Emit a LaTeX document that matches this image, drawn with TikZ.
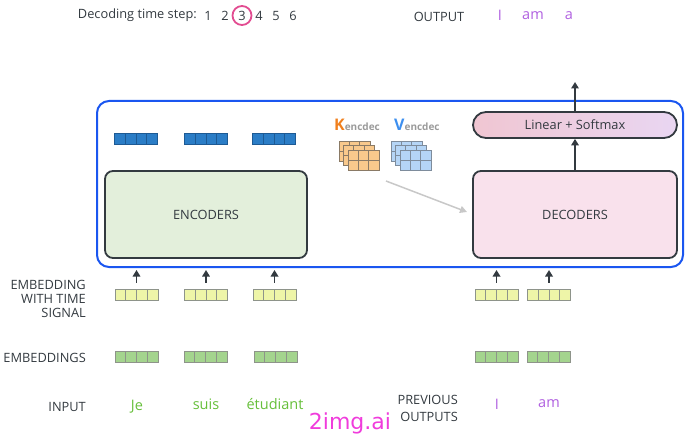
\documentclass[tikz,border=0pt]{standalone}
\usepackage{fontspec}
\setmainfont{Open Sans}
\newfontfamily\wmfont{DejaVu Sans}
\usetikzlibrary{arrows.meta,calc}
\definecolor{txt}{HTML}{333A40}
\definecolor{outerblue}{HTML}{1A56F0}
\definecolor{encfill}{HTML}{E3EFDB}
\definecolor{decfill}{HTML}{F9E1EC}
\definecolor{linL}{HTML}{F0C6D2}
\definecolor{linR}{HTML}{E9D6F2}
\definecolor{bluevec}{HTML}{2B7DC6}
\definecolor{bluevecl}{HTML}{1D5A94}
\definecolor{yelvec}{HTML}{EEF5A8}
\definecolor{greenvec}{HTML}{A4D48E}
\definecolor{vecline}{HTML}{8E948A}
\definecolor{kfill}{HTML}{F9C98C}
\definecolor{kline}{HTML}{8A7A66}
\definecolor{vfill}{HTML}{B5D5F6}
\definecolor{vline}{HTML}{7E8C9C}
\definecolor{korange}{HTML}{F0801E}
\definecolor{vblue}{HTML}{3D8FEF}
\definecolor{subgrey}{HTML}{9A9A9A}
\definecolor{wordgreen}{HTML}{66BF3A}
\definecolor{wordpurple}{HTML}{B060E0}
\definecolor{circpink}{HTML}{E24C91}
\definecolor{wmark}{HTML}{F03CDC}
\definecolor{grayarrow}{HTML}{C8C8C8}
\begin{document}
\begin{tikzpicture}[x=1pt,y=-1pt,
  every node/.style={font=\fontsize{12.8}{14}\selectfont, text=txt, inner sep=0pt},
  vecbox/.style 2 args={minimum width=43pt, minimum height=11pt, inner sep=0pt,
    draw=#2, fill=#1, line width=0.8pt,
    path picture={\foreach \i in {1,2,3}{\draw[#2, line width=0.8pt]
      ($(path picture bounding box.south west)!\i/4!(path picture bounding box.south east)$) --
      ($(path picture bounding box.north west)!\i/4!(path picture bounding box.north east)$);}}},
  gridbox/.style 2 args={minimum width=31pt, minimum height=20pt, inner sep=0pt,
    draw=#2, fill=#1, line width=0.8pt,
    path picture={\foreach \i in {1,2}{\draw[#2, line width=0.8pt]
      ($(path picture bounding box.south west)!\i/3!(path picture bounding box.south east)$) --
      ($(path picture bounding box.north west)!\i/3!(path picture bounding box.north east)$);}
      \draw[#2, line width=0.8pt] ($(path picture bounding box.south west)!0.5!(path picture bounding box.north west)$) --
      ($(path picture bounding box.south east)!0.5!(path picture bounding box.north east)$);}},
  bigbox/.style={draw=txt, line width=1.8pt, rounded corners=8pt, minimum height=87pt, inner sep=0pt},
  arr/.style={draw=txt, line width=1.8pt, -{Triangle[length=6.5pt,width=7.5pt]}},
  word/.style={font=\fontsize{14.5}{16}\selectfont},
]
\useasboundingbox (0,0) rectangle (700,438);

% header
\node[anchor=east] (dts) at (197,15.5) {Decoding time step:};
\node (t1) at (208,15.5) {1};
\node (t2) at (225,15.5) {2};
\node (t3) at (242,15.5) {3};
\node (t4) at (259,15.5) {4};
\node (t5) at (276,15.5) {5};
\node (t6) at (293,15.5) {6};
\draw[circpink, line width=1.8pt] (t3.center) circle (9.5pt);

\node (outlab) at (439,17) {OUTPUT};
\node[word, text=wordpurple] (o1) at (500,15.5) {I};
\node[word, text=wordpurple] (o2) at (533,15.5) {am};
\node[word, text=wordpurple] (o3) at (569,15.5) {a};

% outer blue box
\node[draw=outerblue, line width=2pt, rounded corners=12pt, minimum width=586pt, minimum height=166pt, inner sep=0pt] (outer) at (390,184) {};

% encoder outputs
\node[vecbox={bluevec}{bluevecl}] (b1) at (136,138.5) {};
\node[vecbox={bluevec}{bluevecl}] (b2) at (206,138.5) {};
\node[vecbox={bluevec}{bluevecl}] (b3) at (274,138.5) {};

% encoders / decoders
\node[bigbox, fill=encfill, minimum width=202pt] (enc) at (206,214.5) {ENCODERS};
\node[bigbox, fill=decfill, minimum width=204pt] (dec) at (575,214.5) {DECODERS};
\node[draw=txt, line width=1.8pt, rounded corners=13pt, minimum width=204pt, minimum height=26pt, inner sep=0pt,
  left color=linL, right color=linR] (lin) at (575,125) {Linear + Softmax};

% K / V
\node[anchor=base west, inner sep=0pt] (klab) at (334,131) {{\fontsize{16}{16}\selectfont\bfseries\color{korange}K}{\fontsize{10}{10}\selectfont\bfseries\color{subgrey}encdec}};
\node[anchor=base west, inner sep=0pt] (vlab) at (394,131) {{\fontsize{16}{16}\selectfont\bfseries\color{vblue}V}{\fontsize{10}{10}\selectfont\bfseries\color{subgrey}encdec}};
\node[gridbox={kfill}{kline}] (k1) at (354.5,151) {};
\node[gridbox={kfill}{kline}] (k2) at (359,155.5) {};
\node[gridbox={kfill}{kline}] (k3) at (363.5,160) {};
\node[gridbox={vfill}{vline}] (v1) at (406.5,151) {};
\node[gridbox={vfill}{vline}] (v2) at (411,155.5) {};
\node[gridbox={vfill}{vline}] (v3) at (415.5,160) {};
\coordinate (ga) at (386,181);
\coordinate (gb) at (467,212);
\draw[grayarrow, line width=1.5pt, -{Triangle[length=7pt,width=7pt]}] (ga) -- (gb);

% arrows in decoder
\draw[arr] (dec.north) -- (lin.south);
\coordinate (topend) at (575,82);
\draw[arr] (lin.north) -- (topend);

% embeddings with time signal
\node[vecbox={yelvec}{vecline}] (y1) at (136.5,294.5) {};
\node[vecbox={yelvec}{vecline}] (y2) at (206,294.5) {};
\node[vecbox={yelvec}{vecline}] (y3) at (274.5,294.5) {};
\node[vecbox={yelvec}{vecline}] (y4) at (496.5,294.5) {};
\node[vecbox={yelvec}{vecline}] (y5) at (549,294.5) {};
\foreach \n in {y1,y2,y3,y4,y5}
  \draw[arr, shorten <=6pt, shorten >=2pt] (\n.north) -- (\n.north |- outer.south);

% embeddings
\node[vecbox={greenvec}{vecline}] (g1) at (136.5,357) {};
\node[vecbox={greenvec}{vecline}] (g2) at (205.5,357) {};
\node[vecbox={greenvec}{vecline}] (g3) at (275.5,357) {};
\node[vecbox={greenvec}{vecline}] (g4) at (496.5,357) {};
\node[vecbox={greenvec}{vecline}] (g5) at (548.5,357) {};

% row labels
\node[anchor=east, align=right] (lab1) at (86,299) {EMBEDDING\\WITH TIME\\SIGNAL};
\node[anchor=east] (lab2) at (86,358) {EMBEDDINGS};
\node[anchor=east] (lab3) at (86,407) {INPUT};
\node[anchor=east, align=right, font=\fontsize{12.8}{17}\selectfont] (lab4) at (458,408.5) {PREVIOUS\\OUTPUTS};

% words
\node[word, text=wordgreen] (w1) at (137,407) {Je};
\node[word, text=wordgreen] (w2) at (206,404) {suis};
\node[word, text=wordgreen] (w3) at (275,404) {étudiant};
\node[word, text=wordpurple] (w4) at (497,404) {I};
\node[word, text=wordpurple] (w5) at (549,404) {am};

% watermark
\node[font=\wmfont\fontsize{22}{24}\selectfont, text=wmark] (wm) at (350,423) {2img.ai};
\end{tikzpicture}
\end{document}
